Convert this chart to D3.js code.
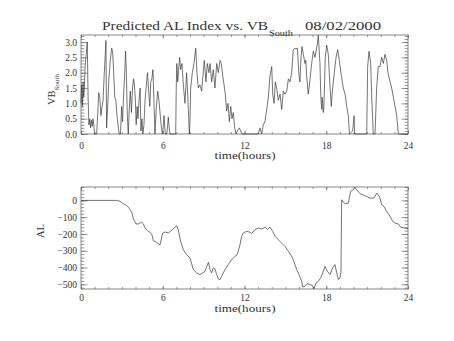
<!DOCTYPE html>
<html>
<head>
<meta charset="utf-8">
<script src="https://cdn.jsdelivr.net/npm/d3@7"></script>
<style>
  html, body { margin: 0; padding: 0; background: #fff; }
  svg { display: block; }
  text { font-family: "Liberation Serif", "DejaVu Serif", serif; fill: #333; }
</style>
</head>
<body>
<svg id="chart" width="454" height="341"></svg>
<script>
// ---- data -------------------------------------------------------------
// Southward IMF component VB_south (mV/m) against UT hours
const vbHours = [0.00,0.05,0.10,0.15,0.20,0.25,0.30,0.38,0.46,0.52,0.58,0.64,0.70,0.76,0.82,0.88,0.94,1.00,1.15,1.22,1.30,1.38,1.46,1.55,1.62,1.70,1.78,1.83,1.88,1.95,2.05,2.15,2.25,2.32,2.40,2.48,2.56,2.64,2.72,2.80,2.90,2.98,3.05,3.12,3.20,3.27,3.33,3.40,3.47,3.55,3.62,3.70,3.78,3.86,3.92,3.98,4.05,4.12,4.18,4.26,4.34,4.40,4.47,4.54,4.62,4.70,4.80,4.88,4.95,5.05,5.12,5.20,5.28,5.36,5.43,5.52,5.63,5.72,5.80,5.88,5.97,6.03,6.09,6.15,6.20,6.30,6.36,6.41,6.47,6.53,6.95,6.99,7.03,7.10,7.18,7.24,7.31,7.41,7.51,7.63,7.70,7.75,7.82,7.88,7.95,8.00,8.05,8.17,8.29,8.42,8.51,8.61,8.73,8.86,8.93,9.05,9.17,9.27,9.39,9.47,9.59,9.71,9.83,9.96,10.08,10.20,10.30,10.40,10.50,10.59,10.69,10.79,10.89,10.99,11.08,11.18,11.28,11.38,11.47,11.62,11.72,11.82,13.00,13.14,13.26,13.38,13.50,13.63,13.75,13.87,14.00,14.07,14.17,14.26,14.36,14.48,14.61,14.73,14.85,14.97,15.10,15.22,15.34,15.46,15.58,15.70,15.76,15.88,16.00,16.07,16.15,16.22,16.32,16.44,16.50,16.56,16.68,16.81,16.93,17.05,17.17,17.30,17.42,17.54,17.60,17.67,17.70,17.74,17.78,17.83,17.93,18.03,18.15,18.28,18.37,18.47,18.59,18.72,18.84,18.96,19.11,19.25,19.38,19.50,19.62,19.70,19.94,20.00,20.04,20.09,20.97,21.04,21.14,21.26,21.33,21.45,21.58,21.70,21.82,21.94,22.07,22.19,22.31,22.44,22.53,22.63,22.80,22.97,23.17,23.29,24.00];
const vbSouth = [1.0,1.6,0.9,1.7,1.2,1.5,2.2,2.6,3.0,1.2,0.3,0.5,0.2,0.45,0.25,0.5,0.3,0.0,0.0,0.6,1.35,1.2,0.6,0.9,1.1,1.9,2.6,3.05,0.2,0.8,1.8,2.4,2.8,2.7,2.0,1.2,1.1,0.6,0.3,0.0,0.0,0.9,0.4,1.2,1.9,2.7,2.0,0.6,0.0,0.9,1.4,0.7,1.5,1.8,1.6,1.2,0.3,0.9,0.5,1.1,1.5,0.1,0.5,0.0,0.3,1.1,1.6,2.0,1.5,0.9,1.7,1.8,2.1,1.0,0.0,0.8,1.4,1.1,0.7,0.3,0.0,0.2,0.6,0.2,0.0,0.0,0.3,0.55,0.2,0.0,0.0,1.5,2.3,1.7,2.2,2.5,2.1,2.3,1.6,1.0,1.6,2.0,1.4,0.8,0.0,0.4,1.5,2.0,2.3,2.8,2.0,1.5,1.6,1.4,1.8,2.4,1.7,2.3,2.0,2.3,1.7,2.1,1.5,2.3,2.0,2.4,2.3,1.9,1.6,1.3,0.75,1.0,0.4,0.9,0.5,0.7,0.2,0.0,0.1,0.2,0.1,0.0,0.0,0.2,0.0,0.3,0.4,0.8,1.2,1.9,2.2,1.3,1.0,1.7,1.5,1.1,1.3,0.8,1.4,1.3,1.4,1.8,1.7,2.0,2.75,2.8,2.78,2.8,1.9,1.7,2.5,2.85,2.6,2.3,2.4,1.9,1.3,1.8,2.3,2.7,2.5,2.8,3.22,2.3,1.2,0.8,1.2,1.0,0.7,0.9,2.5,2.9,2.6,1.5,0.9,1.5,2.0,2.5,2.75,2.4,1.9,1.5,1.3,0.9,0.6,0.0,0.1,0.4,0.6,0.0,0.0,2.2,2.7,2.3,1.3,0.0,0.0,1.5,2.2,2.2,2.5,2.3,2.6,2.4,2.0,1.8,1.5,1.1,0.6,0.0,0.0];

// Predicted AL index (nT) against UT hours
const alHours = [0.00,2.62,2.86,3.10,3.35,3.47,3.60,3.72,3.84,4.04,4.21,4.45,4.58,4.70,4.94,5.06,5.19,5.31,5.55,5.80,5.99,6.17,6.41,6.65,6.83,7.02,7.14,7.31,7.51,7.75,8.00,8.24,8.49,8.73,8.93,9.10,9.22,9.35,9.47,9.59,9.71,9.83,9.96,10.08,10.20,10.32,10.57,10.81,11.06,11.30,11.47,11.67,11.79,11.91,12.16,12.40,12.53,12.77,13.01,13.26,13.50,13.68,13.87,14.07,14.24,14.48,14.73,14.97,15.22,15.46,15.58,15.83,16.00,16.20,16.27,16.44,16.61,16.81,17.00,17.10,17.25,17.42,17.59,17.79,17.91,18.08,18.28,18.47,18.64,18.77,18.89,19.01,19.08,19.13,19.25,19.38,19.62,19.79,19.98,20.11,20.23,20.48,20.84,21.21,21.50,21.70,21.90,22.07,22.24,22.44,22.68,22.88,23.05,23.29,23.46,23.78,24.00];
const alIndex = [0,0,-5,-20,-30,-40,-55,-70,-110,-140,-140,-130,-140,-165,-185,-190,-200,-240,-250,-265,-195,-188,-194,-178,-165,-151,-175,-244,-294,-323,-343,-412,-432,-442,-432,-422,-396,-369,-412,-432,-402,-408,-442,-468,-472,-452,-412,-382,-353,-333,-323,-264,-214,-194,-184,-190,-198,-174,-165,-171,-159,-174,-159,-184,-214,-234,-254,-274,-303,-333,-353,-412,-442,-482,-516,-512,-496,-502,-508,-527,-492,-482,-462,-422,-393,-422,-442,-402,-383,-432,-472,-462,-430,4,-10,-20,-16,54,64,78,64,40,28,14,14,44,24,-26,-36,-66,-95,-125,-135,-140,-159,-165,-168];

// axis ticks and labels
const hourTicks = [0, 6, 12, 18, 24];
const hourMinor = d3.range(0, 25, 1);
const vbTicks = [0, 0.5, 1.0, 1.5, 2.0, 2.5, 3.0];
const vbMinor = d3.range(0, 3.25, 0.1);
const alTicks = [0, -100, -200, -300, -400, -500];
const alMinor = d3.range(-520, 81, 20);
const vbDomain = [0, 3.23];
const alDomain = [-528, 80];

// ---- layout -----------------------------------------------------------
const svg = d3.select("#chart");
const left = 81, right = 408;
const top1 = 35, bot1 = 134;
const top2 = 187, bot2 = 289;

const x = d3.scaleLinear().domain([0, 24]).range([left, right]);
const y1 = d3.scaleLinear().domain(vbDomain).range([bot1, top1]);
const y2 = d3.scaleLinear().domain(alDomain).range([bot2, top2]);

const axisColor = "#6a6a6a";
const labelSize = 9.5;
const fmtMinus = v => (v < 0 ? "\u2212" + Math.abs(v) : String(v));

function frame(yScale, top, bottom, majorY, minorY, yFmt, xPad) {
  const g = svg.append("g");
  // x axis, bottom with labels
  g.append("g").attr("transform", `translate(0,${bottom})`)
    .call(d3.axisBottom(x).tickValues(hourMinor).tickSize(-2).tickSizeOuter(0).tickFormat(""));
  g.append("g").attr("transform", `translate(0,${bottom})`)
    .call(d3.axisBottom(x).tickValues(hourTicks).tickSize(-3.5).tickSizeOuter(0).tickPadding(xPad).tickFormat(d3.format("d")));
  // x axis, top
  g.append("g").attr("transform", `translate(0,${top})`)
    .call(d3.axisTop(x).tickValues(hourMinor).tickSize(-2).tickSizeOuter(0).tickFormat(""));
  g.append("g").attr("transform", `translate(0,${top})`)
    .call(d3.axisTop(x).tickValues(hourTicks).tickSize(-3.5).tickSizeOuter(0).tickFormat(""));
  // y axis, left with labels
  g.append("g").attr("transform", `translate(${left},0)`)
    .call(d3.axisLeft(yScale).tickValues(minorY).tickSize(-3.3).tickSizeOuter(0).tickFormat(""));
  g.append("g").attr("transform", `translate(${left},0)`)
    .call(d3.axisLeft(yScale).tickValues(majorY).tickSize(-6.5).tickSizeOuter(0).tickPadding(4).tickFormat(yFmt));
  // y axis, right
  g.append("g").attr("transform", `translate(${right},0)`)
    .call(d3.axisRight(yScale).tickValues(minorY).tickSize(-3.3).tickSizeOuter(0).tickFormat(""));
  g.append("g").attr("transform", `translate(${right},0)`)
    .call(d3.axisRight(yScale).tickValues(majorY).tickSize(-6.5).tickSizeOuter(0).tickFormat(""));

  g.selectAll(".domain").remove();
  g.selectAll(".tick line").attr("stroke", axisColor).attr("stroke-width", 0.7);
  g.selectAll("text").attr("font-family", "Liberation Serif, DejaVu Serif, serif")
    .attr("font-size", labelSize).attr("fill", "#333");
  g.append("rect")
    .attr("x", left).attr("y", top)
    .attr("width", right - left).attr("height", bottom - top)
    .attr("fill", "none").attr("stroke", axisColor).attr("stroke-width", 0.8);
  return g;
}

frame(y1, top1, bot1, vbTicks, vbMinor, d3.format(".1f"), 8.5);
frame(y2, top2, bot2, alTicks, alMinor, fmtMinus, 5);

// ---- series -----------------------------------------------------------
const vbLine = d3.line().x((d, i) => x(vbHours[i])).y(d => y1(d));
const alLine = d3.line().x((d, i) => x(alHours[i])).y(d => y2(d));

svg.append("path").datum(vbSouth)
  .attr("d", vbLine).attr("fill", "none")
  .attr("stroke", "#3a3a3a").attr("stroke-width", 0.7).attr("stroke-linejoin", "round");
svg.append("path").datum(alIndex)
  .attr("d", alLine).attr("fill", "none")
  .attr("stroke", "#3a3a3a").attr("stroke-width", 0.7).attr("stroke-linejoin", "round");

// ---- titles -----------------------------------------------------------
const title = svg.append("g");
title.append("text").attr("x", 102).attr("y", 30)
  .attr("font-size", 13).attr("textLength", 166).attr("lengthAdjust", "spacingAndGlyphs")
  .text("Predicted AL Index vs. VB");
title.append("text").attr("x", 269).attr("y", 35.5)
  .attr("font-size", 8).attr("textLength", 24).attr("lengthAdjust", "spacingAndGlyphs")
  .text("South");
title.append("text").attr("x", 305).attr("y", 30)
  .attr("font-size", 13).attr("textLength", 76).attr("lengthAdjust", "spacingAndGlyphs")
  .text("08/02/2000");

function xTitle(yPos) {
  svg.append("text").attr("x", 245).attr("y", yPos)
    .attr("text-anchor", "middle").attr("font-size", 10)
    .attr("textLength", 61).attr("lengthAdjust", "spacingAndGlyphs")
    .text("time(hours)");
}
xTitle(159);
xTitle(311.5);

// y titles, rotated
const vbTitle = svg.append("text")
  .attr("transform", "translate(55,105) rotate(-90)")
  .attr("font-size", 10.5);
vbTitle.append("tspan").text("VB");
vbTitle.append("tspan").attr("font-size", 7).attr("dy", 3.5).text("South");

svg.append("text")
  .attr("transform", "translate(43.5,231) rotate(-90)")
  .attr("text-anchor", "middle").attr("font-size", 10.5)
  .text("AL");
</script>
</body>
</html>
